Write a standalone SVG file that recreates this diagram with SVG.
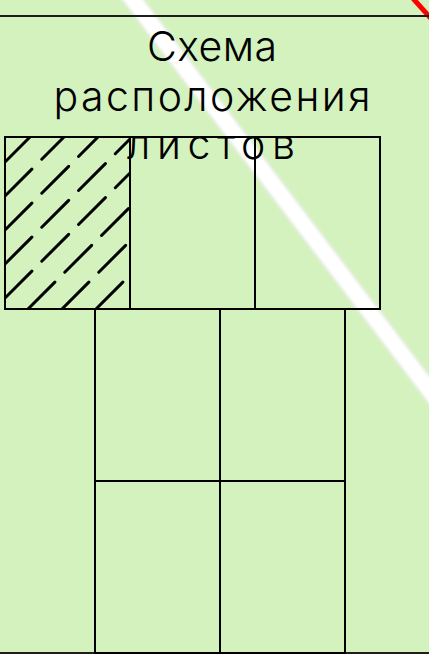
<svg xmlns="http://www.w3.org/2000/svg" width="429" height="654" viewBox="0 0 429 654">
<style>
.cell{fill:none;stroke:#000;stroke-width:2}
.hatch{stroke:#000;stroke-width:3;stroke-linecap:round;stroke-dasharray:38 14;fill:none}
.frame{stroke:#1e1e1e;stroke-width:2;fill:none}
.title{font-family:Inter,"Noto Sans","DejaVu Sans",sans-serif;font-weight:300;font-size:41px;fill:#000;text-anchor:middle}
</style>
<defs>
<clipPath id="hc"><rect x="5" y="137" width="125" height="172"/></clipPath>
<filter id="soft" x="-0.1" y="-0.1" width="1.2" height="1.2"><feGaussianBlur stdDeviation="1"/></filter>
</defs>
<rect width="429" height="654" fill="#d4f2be"/>
<g id="road"><line x1="118" y1="-20" x2="452" y2="420" stroke="#e8eee4" stroke-width="19" filter="url(#soft)"/><line x1="118" y1="-20" x2="452" y2="420" stroke="#ffffff" stroke-width="15" filter="url(#soft)"/></g>
<g id="red-line"><line x1="409" y1="-6" x2="436" y2="24" stroke="#ff0000" stroke-width="5"/></g>
<g id="frame"><line class="frame" x1="0" y1="16" x2="429" y2="16"/><line class="frame" x1="0" y1="653" x2="429" y2="653"/></g>
<g id="connectors"></g>
<g id="sheet-1">
<rect class="cell" x="5" y="137" width="125" height="172"/>
<g clip-path="url(#hc)">
<line class="hatch" x1="5" y1="162" x2="30" y2="137"/>
<line class="hatch" x1="5" y1="196" x2="64" y2="137"/>
<line class="hatch" x1="5" y1="230" x2="98" y2="137"/>
<line class="hatch" x1="5" y1="264" x2="130" y2="139"/>
<line class="hatch" x1="5" y1="298" x2="130" y2="173"/>
<line class="hatch" x1="28" y1="309" x2="130" y2="207"/>
<line class="hatch" x1="62" y1="309" x2="130" y2="241"/>
<line class="hatch" x1="96" y1="309" x2="130" y2="275"/>
</g>
</g>
<g id="sheet-2"><rect class="cell" x="130" y="137" width="125" height="172"/></g>
<g id="sheet-3"><rect class="cell" x="255" y="137" width="125" height="172"/></g>
<g id="sheet-4"><rect class="cell" x="95" y="309" width="125" height="172"/></g>
<g id="sheet-5"><rect class="cell" x="220" y="309" width="125" height="172"/></g>
<g id="sheet-6"><rect class="cell" x="95" y="481" width="125" height="172"/></g>
<g id="sheet-7"><rect class="cell" x="220" y="481" width="125" height="172"/></g>
<g id="title">
<text class="title" x="212" y="61" textLength="130" lengthAdjust="spacing">Схема</text>
<text class="title" x="212" y="111" textLength="317" lengthAdjust="spacing">расположения</text>
<text class="title" x="211" y="159" textLength="168" lengthAdjust="spacing">листов</text>
</g>
</svg>
